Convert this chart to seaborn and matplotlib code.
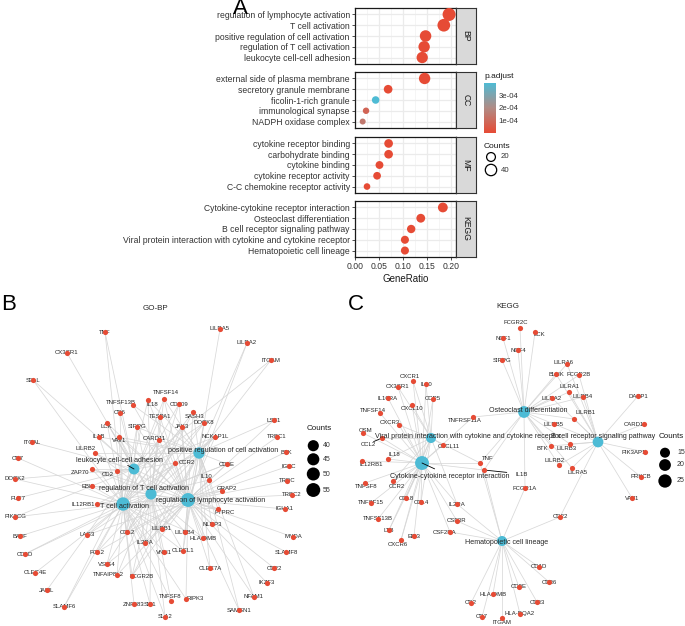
import numpy as np
import pandas as pd
import matplotlib
matplotlib.use("Agg")
import matplotlib.pyplot as plt
import seaborn as sns
from matplotlib.colors import LinearSegmentedColormap, Normalize
from matplotlib.cm import ScalarMappable
from matplotlib.collections import LineCollection

sns.set_theme(style="white")
plt.rcParams['font.family'] = ['Liberation Sans', 'DejaVu Sans']

W, H = 685, 626

# ---------------- panel A data ----------------
bp_terms = ['regulation of lymphocyte activation', 'T cell activation',
            'positive regulation of cell activation', 'regulation of T cell activation',
            'leukocyte cell-cell adhesion']
bp_ratio = [0.196, 0.185, 0.147, 0.144, 0.140]
bp_count = [55, 52, 41, 40, 39]
bp_padj = [2e-12, 2e-12, 5e-10, 5e-10, 8e-10]

cc_terms = ['external side of plasma membrane', 'secretory granule membrane',
            'ficolin-1-rich granule', 'immunological synapse', 'NADPH oxidase complex']
cc_ratio = [0.145, 0.069, 0.043, 0.023, 0.016]
cc_count = [40, 19, 12, 6, 4]
cc_padj = [3e-9, 2e-6, 3.95e-4, 0.8e-4, 1.4e-4]

mf_terms = ['cytokine receptor binding', 'carbohydrate binding', 'cytokine binding',
            'cytokine receptor activity', 'C-C chemokine receptor activity']
mf_ratio = [0.070, 0.070, 0.051, 0.046, 0.025]
mf_count = [19, 19, 14, 13, 7]
mf_padj = [1e-7, 1e-7, 4e-7, 4e-7, 2e-6]

kegg_terms = ['Cytokine-cytokine receptor interaction', 'Osteoclast differentiation',
              'B cell receptor signaling pathway',
              'Viral protein interaction with cytokine and cytokine receptor',
              'Hematopoietic cell lineage']
kegg_ratio = [0.183, 0.137, 0.117, 0.104, 0.104]
kegg_count = [27, 20, 17, 15, 15]
kegg_padj = [1e-9, 1e-8, 2e-7, 5e-7, 5e-7]

facets = [('BP', bp_terms, bp_ratio, bp_count, bp_padj),
          ('CC', cc_terms, cc_ratio, cc_count, cc_padj),
          ('MF', mf_terms, mf_ratio, mf_count, mf_padj),
          ('KEGG', kegg_terms, kegg_ratio, kegg_count, kegg_padj)]

# ---------------- panel B data (GO-BP network) ----------------
bp_net_terms = ['positive regulation of cell activation', 'leukocyte cell-cell adhesion',
                'regulation of T cell activation', 'T cell activation',
                'regulation of lymphocyte activation']
bp_net_keys = ['P', 'L', 'R', 'T', 'Y']
bp_net_counts = [41, 39, 40, 52, 55]
bp_term_x = [199, 134, 151, 123, 188]
bp_term_y = [163, 179, 204, 214, 210]
bp_term_lx = [223, 120, 144, 125, 211]
bp_term_ly = [160, 171, 198, 217, 210]
bp_term_segs = ['leukocyte cell-cell adhesion']

bp_genes = ['TNF', 'CX3CR1', 'SELL', 'LILRA5', 'LILRA2', 'ITGAM', 'TNFSF14', 'TNFSF13B', 'IL18',
            'CD209', 'CD6', 'TESPA1', 'SASH3', 'LCK', 'SIRPG', 'JAK3', 'DOCK8', 'LST1', 'IL1B',
            'VAV1', 'CARD11', 'NCKAP1L', 'TRBC1', 'ITGAL', 'LILRB2', 'BTK', 'CD7', 'CCR2',
            'ZAP70', 'CD2', 'CD3E', 'IGKC', 'DOCK2', 'IL10', 'TRDC', 'EBI3', 'GRAP2', 'TRBC2',
            'FUT7', 'IL12RB1', 'PTPRC', 'IGHA1', 'PIK3CG', 'NLRP3', 'LILRB1', 'LILRB4', 'CCL2',
            'BATF', 'LAG3', 'MNDA', 'HLA-DMB', 'IL2RA', 'FGL2', 'VNN1', 'CLECL1', 'SLAMF8',
            'CD1D', 'VSIG4', 'CLEC7A', 'CD22', 'CLEC4E', 'TNFAIP8L2', 'FCGR2B', 'IKZF3', 'JAML',
            'NFAM1', 'TNFSF8', 'RIPK3', 'ZNF683', 'SIT1', 'SLAMF6', 'SAMSN1', 'SLA2']
bp_gene_x = [105, 67, 33, 220, 247, 271, 164, 133, 148, 179, 120, 160, 193, 107, 137, 182, 204,
             274, 99, 119, 159, 215, 277, 32, 95, 286, 18, 175, 92, 117, 227, 289, 15, 209, 287,
             92, 222, 292, 18, 97, 218, 285, 15, 212, 162, 185, 127, 20, 87, 293, 203, 145, 97,
             164, 183, 286, 25, 107, 210, 274, 35, 117, 132, 267, 47, 254, 171, 186, 134, 150,
             64, 239, 165]
bp_gene_y = [42, 63, 90, 39, 53, 70, 109, 115, 110, 114, 123, 127, 122, 133, 137, 137, 133,
             130, 147, 147, 150, 147, 147, 152, 163, 162, 168, 173, 179, 181, 174, 176, 189,
             190, 191, 196, 201, 205, 208, 214, 219, 219, 227, 234, 239, 242, 242, 246, 245,
             247, 248, 253, 262, 262, 261, 262, 264, 274, 278, 278, 283, 285, 286, 293, 300,
             307, 311, 309, 314, 314, 317, 320, 327]
bp_gene_sets = ['TL', 'L', 'LT', 'P', 'PY', 'PL', 'PRTY', 'PY', 'PRTY', 'RTY', 'LT', 'TRY',
                'PRTY', 'LRTY', 'PLRTY', 'PRTY', 'PLRTY', 'PY', 'PLT', 'PLRTY', 'PLRTY', 'PLRTY',
                'Y', 'L', 'PRY', 'Y', 'T', 'PLRTY', 'LRTY', 'LT', 'PRTY', 'Y', 'LT', 'PRY', 'Y',
                'RTY', 'TY', 'Y', 'L', 'PRTY', 'PLRTY', 'Y', 'LT', 'PY', 'PRTY', 'PRY', 'PLRTY',
                'T', 'RTY', 'Y', 'PRTY', 'PLRTY', 'RTY', 'RT', 'PRTY', 'Y', 'RT', 'RTY', 'PY',
                'Y', 'T', 'RTY', 'PRTY', 'Y', 'L', 'PY', 'RT', 'TY', 'T', 'RT', 'LT', 'PY', 'RT']
bp_nudge = {'TNFSF14': (2, -6), 'TNFSF13B': (-12, -2), 'IL18': (4, 4), 'SASH3': (2, 4),
            'LCK': (-1, 3), 'VAV1': (0, 3), 'CARD11': (-5, -2), 'LILRB2': (-9, -5),
            'CCR2': (12, 0), 'ZAP70': (-12, 4), 'CD2': (-9, 4), 'EBI3': (-4, 0),
            'GRAP2': (5, -2), 'IL12RB1': (-14, 0), 'PTPRC': (7, 3), 'IL10': (-3, -3),
            'TNFAIP8L2': (-9, 0), 'FCGR2B': (10, 0), 'TNFSF8': (-1, -4), 'RIPK3': (9, 0)}

# ---------------- panel C data (KEGG network) ----------------
kg_net_terms = ['Osteoclast differentiation',
                'Viral protein interaction with cytokine and cytokine receptor',
                'B cell receptor signaling pathway', 'Cytokine-cytokine receptor interaction',
                'Hematopoietic cell lineage']
kg_net_keys = ['O', 'V', 'B', 'C', 'H']
kg_net_counts = [20, 15, 17, 27, 15]
kg_term_x = [184, 91, 258, 82, 162]
kg_term_y = [122, 148, 152, 173, 251]
kg_term_lx = [188, 128, 263, 110, 167]
kg_term_ly = [120, 146, 147, 186, 252]
kg_term_segs = ['Cytokine-cytokine receptor interaction']

kg_genes = ['FCGR2C', 'LCK', 'NCF1', 'NCF4', 'SIRPG', 'LILRA6', 'BLNK', 'FCGR2B', 'LILRA1',
            'LILRA2', 'LILRB4', 'DAPP1', 'LILRB1', 'LILRB5', 'CARD11', 'BTK', 'LILRB3',
            'PIK3AP1', 'LILRB2', 'LILRA5', 'PRKCB', 'VAV1', 'CD22', 'FCGR1A', 'CXCR1', 'CX3CR1',
            'IL10', 'IL10RA', 'CCR5', 'CXCL10', 'TNFSF14', 'TNFRSF11A', 'CXCR3', 'OSM', 'CCL2',
            'CXCL11', 'IL18', 'IL12RB1', 'TNF', 'IL1B', 'TNFSF8', 'CCR2', 'TNFSF15', 'CCL8',
            'CCL4', 'IL2RA', 'TNFSF13B', 'CSF3R', 'LTB', 'EBI3', 'CSF2RA', 'CXCR6', 'CD1D',
            'CD36', 'CD3E', 'HLA-DMB', 'CD33', 'CD2', 'HLA-DQA2', 'CD7', 'ITGAM']
kg_gene_x = [180, 195, 163, 178, 162, 227, 216, 239, 229, 212, 243, 298, 234, 214, 304, 211,
             230, 305, 219, 232, 301, 292, 220, 185, 73, 58, 86, 48, 93, 72, 40, 133, 59, 23,
             42, 103, 48, 22, 140, 144, 25, 53, 31, 66, 81, 117, 38, 117, 49, 74, 110, 61, 199,
             209, 179, 153, 197, 131, 180, 142, 162]
kg_gene_y = [38, 42, 48, 60, 70, 74, 84, 85, 102, 108, 107, 106, 129, 134, 134, 156, 154, 162,
             175, 178, 187, 208, 227, 198, 91, 97, 94, 108, 109, 115, 123, 127, 135, 143, 148,
             155, 169, 171, 173, 180, 193, 191, 213, 208, 212, 214, 229, 231, 240, 246, 242,
             250, 277, 292, 297, 304, 312, 313, 324, 327, 328]
kg_gene_sets = ['O', 'O', 'O', 'O', 'O', 'OB', 'OB', 'OB', 'OB', 'OB', 'OB', 'B', 'OB', 'OB',
                'B', 'OB', 'OB', 'B', 'OB', 'OB', 'B', 'B', 'BH', 'OH', 'CV', 'CV', 'CV', 'C',
                'CV', 'CV', 'C', 'CO', 'CV', 'C', 'CV', 'CV', 'CV', 'C', 'COVH', 'COH', 'C',
                'CV', 'C', 'CV', 'CV', 'CVH', 'C', 'CH', 'CV', 'C', 'CH', 'CV', 'H', 'H', 'H',
                'H', 'H', 'H', 'H', 'H', 'H']
kg_nudge = {'FCGR2C': (-4, -5), 'LCK': (4, 3), 'LILRA1': (1, -6), 'LILRB1': (12, -6),
            'CARD11': (-9, 0), 'BTK': (-9, 3), 'LILRB3': (-3, 4), 'PIK3AP1': (-11, 0),
            'CXCR1': (-3, -5), 'CXCL10': (0, 4), 'TNFSF14': (-7, -3), 'TNFRSF11A': (-8, 3),
            'CXCR3': (-9, -3), 'OSM': (3, -3), 'CCL2': (-14, 6), 'CXCL11': (6, 2),
            'IL18': (6, -5), 'IL12RB1': (9, 4), 'TNF': (8, -4), 'IL1B': (38, 4),
            'TNFSF8': (1, 4), 'CCR2': (4, 6), 'LILRB2': (-4, -4), 'LILRA5': (5, 4),
            'CXCR6': (-3, 4), 'CSF2RA': (-5, 0), 'ITGAM': (0, 4), 'LILRA6': (-3, -1)}
kg_segments = ['CCL2', 'IL1B']

RED = '#E64B35'
BLUE = '#4DBBD5'
TXT = '#262626'


def px_rect(x0, y0, x1, y1):
    return [x0 / W, 1 - y1 / H, (x1 - x0) / W, (y1 - y0) / H]


fig = plt.figure(figsize=(W / 100, H / 100), dpi=100)

# ---------------- panel A ----------------
cmap = LinearSegmentedColormap.from_list('padj', [RED, '#B08C86', BLUE])
pnorm = Normalize(2e-6, 3.98e-4)
dot_sizes = (18.7, 87.6)
dot_norm = (4, 55)
facet_rows = [(8, 64), (72, 128), (137, 193), (201, 257)]

for (label, terms, ratio, count, padj), (top, bot) in zip(facets, facet_rows):
    ax = fig.add_axes(px_rect(355, top, 456, bot))
    df = pd.DataFrame({'Description': terms, 'GeneRatio': ratio,
                       'Counts': count, 'p.adjust': padj})
    sns.scatterplot(data=df, x='GeneRatio', y='Description', hue='p.adjust',
                    size='Counts', palette=cmap, hue_norm=pnorm, sizes=dot_sizes,
                    size_norm=dot_norm, linewidth=0, legend=False, ax=ax, zorder=3)
    ax.set_xlim(0.0, 0.2104)
    ax.set_ylim(4.6, -0.6)
    ax.set_xticks([0.0, 0.05, 0.10, 0.15, 0.20])
    ax.set_xticks([0.025, 0.075, 0.125, 0.175], minor=True)
    ax.grid(True, which='major', color='#EBEBEB', linewidth=0.9)
    ax.grid(True, which='minor', axis='x', color='#F2F2F2', linewidth=0.5)
    ax.set_axisbelow(True)
    for sp in ax.spines.values():
        sp.set_color('#1A1A1A')
        sp.set_linewidth(0.9)
    ax.set_ylabel('')
    ax.tick_params(axis='y', which='major', left=True, length=2.2, width=0.6,
                   color='#333333', labelsize=6.2, labelcolor='#333333', pad=1.5)
    ax.tick_params(axis='x', which='minor', bottom=False)
    if label == 'KEGG':
        ax.tick_params(axis='x', which='major', bottom=True, length=2.2, width=0.6,
                       color='#333333', labelsize=6.2, labelcolor='#333333', pad=1.5)
        ax.set_xticklabels(['0.00', '0.05', '0.10', '0.15', '0.20'])
        ax.set_xlabel('GeneRatio', fontsize=7, color='#1A1A1A', labelpad=2)
    else:
        ax.tick_params(axis='x', which='major', bottom=False, labelbottom=False)
        ax.set_xlabel('')
    strip = fig.add_axes(px_rect(456, top, 476, bot))
    strip.set_facecolor('#D9D9D9')
    strip.set_xticks([])
    strip.set_yticks([])
    for sp in strip.spines.values():
        sp.set_color('#333333')
        sp.set_linewidth(0.8)
    strip.text(0.5, 0.5, label, rotation=-90, ha='center', va='center',
               fontsize=6.2, color='#1A1A1A', transform=strip.transAxes)

cax = fig.add_axes(px_rect(484, 82.7, 496, 132.7))
cb = fig.colorbar(ScalarMappable(norm=pnorm, cmap=cmap), cax=cax)
cb.set_ticks([1e-4, 2e-4, 3e-4])
cb.set_ticklabels(['1e-04', '2e-04', '3e-04'])
cb.outline.set_visible(False)
cax.tick_params(length=2, width=0.6, color='white', direction='in',
                labelsize=5.6, labelcolor='#333333', pad=2)

# ---------------- network helper ----------------
def draw_network(ax, terms, keys, counts, tx, ty, tlx, tly, genes, gx, gy, gsets,
                 nudge, segs, term_segs, node_sizes):
    pos = dict(zip(keys, zip(tx, ty)))
    lines = []
    for x, y, s in zip(gx, gy, gsets):
        for k in s:
            lines.append([(x, y), pos[k]])
    ax.add_collection(LineCollection(lines, colors='#D4D4D4', linewidths=0.55,
                                     alpha=0.9, zorder=1))
    for g, x, y in zip(genes, gx, gy):
        dx, dy = nudge.get(g, (0, 0))
        ax.text(x + dx, y + dy, g, fontsize=4.3, color=TXT, ha='center',
                va='center', zorder=2)
        if g in segs:
            ax.plot([x, x + dx * 0.6], [y, y + dy * 0.6], color='black', lw=0.6, zorder=2)
    sns.scatterplot(x=gx, y=gy, color=RED, s=14, linewidth=0, ax=ax, zorder=3,
                    legend=False)
    tdf = pd.DataFrame({'x': tx, 'y': ty, 'Counts': counts})
    sns.scatterplot(data=tdf, x='x', y='y', size='Counts', sizes=node_sizes,
                    size_norm=(min(counts), max(counts)), color=BLUE, linewidth=0,
                    ax=ax, zorder=4, legend=False)
    for t, x, y, lx, ly in zip(terms, tx, ty, tlx, tly):
        ax.text(lx, ly, t, fontsize=5.1, color=TXT, ha='center', va='center', zorder=5)
        if t in term_segs:
            ax.plot([x, x + (lx - x) * 0.45], [y, y + (ly - y) * 0.45],
                    color='black', lw=0.6, zorder=5)
    ax.set_xlabel('')
    ax.set_ylabel('')
    ax.axis('off')


axB = fig.add_axes(px_rect(0, 290, 340, 626))
b_sizes = (62, 100)
draw_network(axB, bp_net_terms, bp_net_keys, bp_net_counts, bp_term_x, bp_term_y,
             bp_term_lx, bp_term_ly, bp_genes, bp_gene_x, bp_gene_y, bp_gene_sets,
             bp_nudge, [], bp_term_segs, b_sizes)
axB.set_xlim(0, 340)
axB.set_ylim(336, 0)
axB.text(155, 18, 'GO-BP', fontsize=5.8, color=TXT, ha='center', va='center')

axC = fig.add_axes(px_rect(340, 290, 685, 626))
c_sizes = (52, 100)
draw_network(axC, kg_net_terms, kg_net_keys, kg_net_counts, kg_term_x, kg_term_y,
             kg_term_lx, kg_term_ly, kg_genes, kg_gene_x, kg_gene_y, kg_gene_sets,
             kg_nudge, kg_segments, kg_term_segs, c_sizes)
axC.set_xlim(0, 345)
axC.set_ylim(336, 0)
axC.text(168, 17, 'KEGG', fontsize=5.8, color=TXT, ha='center', va='center')

# ---------------- overlay: panel letters and legends ----------------
ov = fig.add_axes([0, 0, 1, 1])
ov.patch.set_alpha(0)

ov.text(240, 9, 'A', fontsize=16, ha='center', va='center', color='black')
ov.text(9, 305, 'B', fontsize=16, ha='center', va='center', color='black')
ov.text(356, 305, 'C', fontsize=16, ha='center', va='center', color='black')

# panel A legends
ov.text(484, 77, 'p.adjust', fontsize=6, color='#1A1A1A', ha='left', va='center')
ov.text(484, 146.7, 'Counts', fontsize=6, color='#1A1A1A', ha='left', va='center')
a_leg = [20, 40]
a_leg_y = [157, 170]
sns.scatterplot(x=[491] * 2, y=a_leg_y, size=a_leg, sizes=dot_sizes, size_norm=dot_norm,
                facecolor='none', edgecolor='black', linewidth=0.9, ax=ov, legend=False)
for c, y in zip(a_leg, a_leg_y):
    ov.text(501, y, str(c), fontsize=5.6, color='#333333', ha='left', va='center')

# panel B legend
b_leg = [40, 45, 50, 55]
b_leg_y = [445.7, 459.3, 474, 490]
ov.text(306.5, 428.5, 'Counts', fontsize=5.8, color='#1A1A1A', ha='left', va='center')
sns.scatterplot(x=[313.3] * 4, y=b_leg_y, size=b_leg, sizes=b_sizes,
                size_norm=(min(bp_net_counts), max(bp_net_counts)), color='black',
                linewidth=0, ax=ov, legend=False)
for c, y in zip(b_leg, b_leg_y):
    ov.text(323, y, str(c), fontsize=5, color='#333333', ha='left', va='center')

# panel C legend
c_leg = [15, 20, 25]
c_leg_y = [452.7, 465, 481]
ov.text(658.3, 436.7, 'Counts', fontsize=5.8, color='#1A1A1A', ha='left', va='center')
sns.scatterplot(x=[665] * 3, y=c_leg_y, size=c_leg, sizes=c_sizes,
                size_norm=(min(kg_net_counts), max(kg_net_counts)), color='black',
                linewidth=0, ax=ov, legend=False)
for c, y in zip(c_leg, c_leg_y):
    ov.text(677, y, str(c), fontsize=5, color='#333333', ha='left', va='center')

ov.set_xlim(0, W)
ov.set_ylim(H, 0)
ov.set_xlabel('')
ov.set_ylabel('')
ov.axis('off')

fig.savefig('out.png', dpi=100)
